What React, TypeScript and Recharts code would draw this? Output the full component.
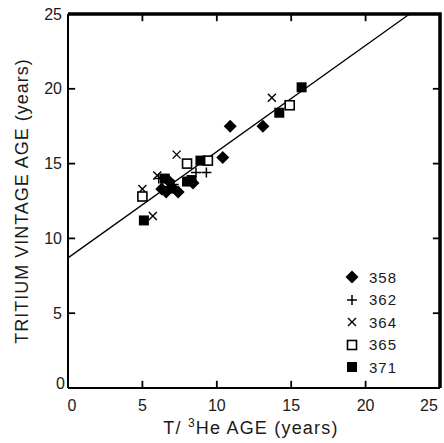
import { ScatterChart, Scatter, XAxis, YAxis, ReferenceLine, Label } from 'recharts';

// tick values shared by all four sides of the frame
const TICKS = [0, 5, 10, 15, 20, 25];

// [T/3He age, tritium vintage age] per well group
const S358 = [
  { x: 6.3, y: 13.3 }, { x: 6.6, y: 13.1 }, { x: 7.0, y: 13.4 }, { x: 7.4, y: 13.1 },
  { x: 6.8, y: 13.8 }, { x: 8.4, y: 13.7 }, { x: 10.4, y: 15.4 }, { x: 10.9, y: 17.5 },
  { x: 13.1, y: 17.5 },
];
const S362 = [
  { x: 6.1, y: 14.0 }, { x: 7.1, y: 13.6 }, { x: 8.6, y: 14.4 }, { x: 9.3, y: 14.4 },
];
const S364 = [
  { x: 5.0, y: 13.3 }, { x: 5.7, y: 11.5 }, { x: 6.0, y: 14.2 }, { x: 7.3, y: 15.6 },
  { x: 13.7, y: 19.4 },
];
const S365 = [
  { x: 5.0, y: 12.8 }, { x: 8.0, y: 15.0 }, { x: 9.4, y: 15.2 }, { x: 14.9, y: 18.9 },
];
const S371 = [
  { x: 5.1, y: 11.2 }, { x: 6.5, y: 14.0 }, { x: 8.0, y: 13.8 }, { x: 8.3, y: 13.9 },
  { x: 8.9, y: 15.2 }, { x: 14.2, y: 18.4 }, { x: 15.7, y: 20.1 },
];

// regression line
const FIT_INTERCEPT = 8.7;
const FIT_SLOPE = 0.71;
const MAX = 25;
const TICK_LEN = 0.48; // inward tick length, in axis units

const INK = '#000';
const FONT = '"Liberation Sans", Arial, sans-serif';

type ShapeProps = { cx?: number; cy?: number };

const Diamond = ({ cx = 0, cy = 0 }: ShapeProps) => (
  <polygon points={`${cx},${cy - 6.5} ${cx + 6.5},${cy} ${cx},${cy + 6.5} ${cx - 6.5},${cy}`} fill={INK} />
);
const Plus = ({ cx = 0, cy = 0 }: ShapeProps) => (
  <path d={`M${cx - 5},${cy}H${cx + 5}M${cx},${cy - 5}V${cy + 5}`} stroke={INK} strokeWidth={1.5} />
);
const Cross = ({ cx = 0, cy = 0 }: ShapeProps) => (
  <path d={`M${cx - 4},${cy - 4}L${cx + 4},${cy + 4}M${cx + 4},${cy - 4}L${cx - 4},${cy + 4}`} stroke={INK} strokeWidth={1.4} />
);
const OpenSquare = ({ cx = 0, cy = 0 }: ShapeProps) => (
  <rect x={cx - 4.5} y={cy - 4.5} width={9} height={9} fill="#fff" stroke={INK} strokeWidth={1.6} />
);
const FilledSquare = ({ cx = 0, cy = 0 }: ShapeProps) => (
  <rect x={cx - 5} y={cy - 5} width={10} height={10} fill={INK} />
);
const NoMark = () => <g />;

const SERIES = [
  { name: '358', data: S358, Shape: Diamond },
  { name: '362', data: S362, Shape: Plus },
  { name: '364', data: S364, Shape: Cross },
  { name: '365', data: S365, Shape: OpenSquare },
  { name: '371', data: S371, Shape: FilledSquare },
];

// top and right sides of the box, and the inward tick marks on all sides
const FRAME = [{ x: 0, y: MAX }, { x: MAX, y: MAX }, { x: MAX, y: 0 }];
const INNER = TICKS.filter((t) => t > 0 && t < MAX);
const TICK_SEGMENTS = INNER.flatMap((t) => [
  [{ x: t, y: 0 }, { x: t, y: TICK_LEN }],
  [{ x: t, y: MAX }, { x: t, y: MAX - TICK_LEN }],
  [{ x: 0, y: t }, { x: TICK_LEN, y: t }],
  [{ x: MAX, y: t }, { x: MAX - TICK_LEN, y: t }],
]);

const textStyle = { fontFamily: FONT, fontSize: 16, fill: '#1a1a1a' };

function LeftTick({ x, y, payload }: any) {
  const v = payload.value;
  return (
    <text x={v === 0 ? x - 3 : x - 6} y={v === 0 ? y - 5 : y} textAnchor="end" dominantBaseline="central" {...textStyle}>
      {v}
    </text>
  );
}

function BottomTick({ x, y, payload }: any) {
  const v = payload.value;
  return (
    <text x={v === 0 ? x + 4 : v === MAX ? x - 7 : x} y={y + 17} textAnchor="middle" dominantBaseline="central" {...textStyle}>
      {v}
    </text>
  );
}

function XTitle({ viewBox }: any) {
  const cx = viewBox.x + viewBox.width / 2 - 3;
  return (
    <text x={cx} y={434} textAnchor="middle" fontFamily={FONT} fontSize={18} letterSpacing={1.2} fill="#1a1a1a">
      <tspan>T/ </tspan>
      <tspan dy={-7} fontSize={12}>3</tspan>
      <tspan dy={7}>He AGE (years)</tspan>
    </text>
  );
}

function YTitle({ viewBox }: any) {
  const cy = viewBox.y + viewBox.height / 2;
  return (
    <text
      x={22}
      y={cy}
      transform={`rotate(-90, 22, ${cy})`}
      textAnchor="middle"
      dominantBaseline="central"
      fontFamily={FONT}
      fontSize={18}
      letterSpacing={1}
      fill="#1a1a1a"
    >
      TRITIUM VINTAGE AGE (years)
    </text>
  );
}

export default function App() {
  const fitEnd = (MAX - FIT_INTERCEPT) / FIT_SLOPE;
  return (
    <div style={{ position: 'absolute', left: 0, top: 0, width: 444, height: 443, background: '#fff' }}>
      <ScatterChart width={444} height={443} margin={{ top: 14, right: 4, bottom: 0, left: 0 }}>
        <XAxis
          type="number"
          dataKey="x"
          domain={[0, MAX]}
          ticks={TICKS}
          height={55}
          tickSize={0}
          tickMargin={0}
          tickLine={false}
          axisLine={{ stroke: INK, strokeWidth: 2 }}
          tick={<BottomTick />}
        >
          <Label content={<XTitle />} />
        </XAxis>
        <YAxis
          type="number"
          dataKey="y"
          domain={[0, MAX]}
          ticks={TICKS}
          width={68}
          tickSize={0}
          tickMargin={0}
          tickLine={false}
          axisLine={{ stroke: INK, strokeWidth: 2 }}
          tick={<LeftTick />}
        >
          <Label content={<YTitle />} />
        </YAxis>

        <Scatter data={FRAME} line={{ stroke: INK, strokeWidth: 3.5 }} shape={<NoMark />} isAnimationActive={false} />
        {TICK_SEGMENTS.map((seg, i) => (
          <Scatter key={`tk${i}`} data={seg} line={{ stroke: INK, strokeWidth: 1.8 }} shape={<NoMark />} isAnimationActive={false} />
        ))}

        <ReferenceLine
          segment={[{ x: 0, y: FIT_INTERCEPT }, { x: fitEnd, y: MAX }]}
          stroke={INK}
          strokeWidth={1.3}
        />
        {SERIES.map((s) => (
          <Scatter key={s.name} name={s.name} data={s.data} shape={<s.Shape />} isAnimationActive={false} />
        ))}
      </ScatterChart>
      {/* legend sits inside the plot, lower right */}
      <div style={{ position: 'absolute', left: 343, top: 266, fontFamily: FONT, fontSize: 15, color: '#1a1a1a' }}>
        {SERIES.map((s) => (
          <div key={s.name} style={{ display: 'flex', alignItems: 'center', height: 22.5 }}>
            <svg width={18} height={18} style={{ marginRight: 8 }}>
              <s.Shape cx={9} cy={9} />
            </svg>
            <span style={{ letterSpacing: 1 }}>{s.name}</span>
          </div>
        ))}
      </div>
    </div>
  );
}
